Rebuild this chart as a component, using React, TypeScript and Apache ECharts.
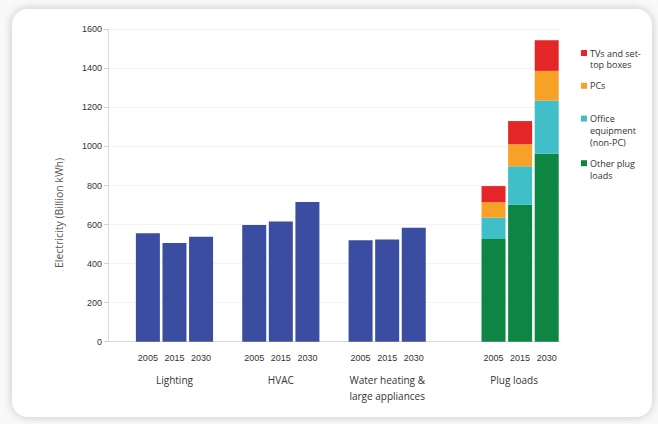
import React, { useEffect, useRef } from "react";
import * as echarts from "echarts";

// ---- data ----
const groupNames = ["Lighting", "HVAC", "Water heating &\nlarge appliances", "Plug loads"];
const years = ["2005", "2015", "2030"];
const lighting = [555, 505, 538];
const hvac = [598, 615, 715];
const waterHeating = [519, 523, 584];
const otherPlugLoads = [526, 702, 963];
const officeEquipment = [109, 196, 272];
const pcs = [79, 113, 152];
const tvs = [83, 119, 157];
const yTicks = { min: 0, max: 1600, interval: 200 };
const legendOrder = ["TVs and set-top boxes", "PCs", "Office equipment (non-PC)", "Other plug loads"];

// layout: empty slots before each group on the category axis
const gapsBefore = [1, 1, 1, 2];

export default function App() {
  const ref = useRef<HTMLDivElement>(null);

  useEffect(() => {
    if (!ref.current) return;
    const chart = echarts.init(ref.current, null, { renderer: "svg" });

    const yearLabels: string[] = [];
    const groupLabels: any[] = [];
    const slotOf: number[][] = [];
    groupNames.forEach((g, gi) => {
      for (let k = 0; k < gapsBefore[gi]; k++) {
        yearLabels.push("");
        groupLabels.push("");
      }
      const idx: number[] = [];
      years.forEach((y, yi) => {
        idx.push(yearLabels.length);
        yearLabels.push(y);
        if (yi === 1) {
          groupLabels.push(
            gi === groupNames.length - 1
              ? { value: g, textStyle: { padding: [0, 12, 0, 0] } }
              : g
          );
        } else {
          groupLabels.push("");
        }
      });
      slotOf.push(idx);
    });
    const n = yearLabels.length;
    const place = (gi: number, vals: number[]) => {
      const arr: (number | null)[] = new Array(n).fill(null);
      slotOf[gi].forEach((s, i) => (arr[s] = vals[i]));
      return arr;
    };
    const blue: (number | null)[] = new Array(n).fill(null);
    [lighting, hvac, waterHeating].forEach((vals, gi) => {
      slotOf[gi].forEach((s, i) => (blue[s] = vals[i]));
    });

    const font = "'Open Sans', 'Liberation Sans', sans-serif";
    const numFont = "'Liberation Sans', Arial, sans-serif";

    const richLegend: Record<string, any> = {
      t: { fontSize: 9, fontFamily: font, color: "#333", lineHeight: 11.8, padding: [0, 0, 0, 3] },
      s: { width: 6, height: 6, lineHeight: 11.8 },
      r: { width: 6, height: 6, lineHeight: 11.8, backgroundColor: "#e52628" },
      o: { width: 6, height: 6, lineHeight: 11.8, backgroundColor: "#f7a127" },
      c: { width: 6, height: 6, lineHeight: 11.8, backgroundColor: "#41bfc9" },
      g: { width: 6, height: 6, lineHeight: 11.8, backgroundColor: "#0d8644" },
    };
    const legendText: Record<string, string> = {
      "TVs and set-top boxes": "{r|}{t|TVs and set-}\n{s|}{t|top boxes}",
      PCs: "{o|}{t|PCs}\n{s|}",
      "Office equipment (non-PC)": "{c|}{t|Office}\n{s|}{t|equipment}\n{s|}{t|(non-PC)}",
      "Other plug loads": "{g|}{t|Other plug}\n{s|}{t|loads}",
    };

    const barBase = { type: "bar", stack: "all", barWidth: 24, xAxisIndex: 0 };

    chart.setOption({
      animation: false,
      backgroundColor: "#f9f9f9",
      graphic: [
        {
          type: "rect",
          z: -10,
          shape: { x: 12, y: 9, width: 640, height: 408, r: 16 },
          style: { fill: "#ffffff", shadowBlur: 10, shadowColor: "rgba(0,0,0,0.22)" },
        },
        {
          type: "text",
          x: 59,
          y: 213,
          rotation: Math.PI / 2,
          style: {
            text: "Electricity (Billion kWh)",
            fontSize: 10.5,
            fontFamily: font,
            fill: "#555",
            align: "center",
            verticalAlign: "middle",
          },
        },
      ],
      grid: { left: 108, top: 29.3, width: 452, height: 312.4, containLabel: false },
      legend: {
        orient: "vertical",
        left: 576,
        top: 47,
        padding: 0,
        itemGap: 9,
        icon: "none",
        itemWidth: 0,
        itemHeight: 0,
        selectedMode: false,
        data: legendOrder,
        formatter: (name: string) => legendText[name],
        textStyle: { rich: richLegend },
      },
      xAxis: [
        {
          type: "category",
          data: yearLabels,
          axisLine: { show: true, lineStyle: { color: "#d9d9d9", width: 1 } },
          axisTick: { show: false },
          axisLabel: { interval: 0, fontSize: 9, fontFamily: numFont, color: "#333", margin: 12 },
        },
        {
          type: "category",
          data: groupLabels,
          position: "bottom",
          axisLine: { show: false },
          axisTick: { show: false },
          axisLabel: {
            interval: 0,
            fontSize: 10,
            fontFamily: font,
            color: "#333",
            margin: 30,
            lineHeight: 16.5,
          },
        },
      ],
      yAxis: {
        type: "value",
        min: yTicks.min,
        max: yTicks.max,
        interval: yTicks.interval,
        axisLine: { show: true, lineStyle: { color: "#d9d9d9" } },
        axisTick: { show: true, length: 4, lineStyle: { color: "#d0d0d0" } },
        axisLabel: {
          fontSize: 9,
          fontFamily: numFont,
          color: "#333",
          margin: 6,
          formatter: (v: number) => String(v),
        },
        splitLine: { show: true, lineStyle: { color: "#f3f3f3" } },
      },
      series: [
        { ...barBase, name: "Total", data: blue, itemStyle: { color: "#3a4da0" } },
        { ...barBase, name: "Other plug loads", data: place(3, otherPlugLoads), itemStyle: { color: "#0d8644" } },
        { ...barBase, name: "Office equipment (non-PC)", data: place(3, officeEquipment), itemStyle: { color: "#41bfc9" } },
        { ...barBase, name: "PCs", data: place(3, pcs), itemStyle: { color: "#f7a127" } },
        { ...barBase, name: "TVs and set-top boxes", data: place(3, tvs), itemStyle: { color: "#e52628" } },
      ],
    });

    return () => chart.dispose();
  }, []);

  return (
    <div
      ref={ref}
      style={{ position: "absolute", left: 0, top: 0, width: 658, height: 424 }}
    />
  );
}
